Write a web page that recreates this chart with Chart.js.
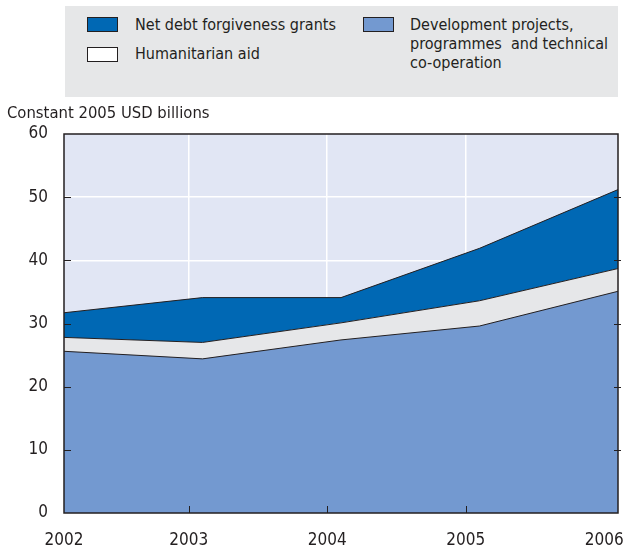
<!DOCTYPE html>
<html>
<head>
<meta charset="utf-8">
<script src="https://cdn.jsdelivr.net/npm/chart.js@4.4.1/dist/chart.umd.min.js"></script>
<style>
  body { margin: 0; background: #fff; }
  #wrap { position: relative; width: 625px; height: 547px; font-family: "Liberation Sans Narrow", "Arial Narrow", "DejaVu Sans Condensed", sans-serif; color: #231f20; }
  #legend { position: absolute; left: 65px; top: 6px; width: 553px; height: 91px; background: #e6e7e8; font-size: 16px; }
  .sw { position: absolute; width: 29px; height: 13px; border: 1px solid #231f20; }
  .lt { position: absolute; line-height: 19px; white-space: nowrap; }
  #ytitle { position: absolute; left: 7px; top: 103px; font-size: 16.5px; line-height: 20px; white-space: nowrap; }
  canvas { position: absolute; left: 0; top: 0; }
</style>
</head>
<body>
<div id="wrap">
  <canvas id="aidChart" width="625" height="547"></canvas>
  <div id="legend">
    <div class="sw" style="left:22px; top:11px; background:#0068b4"></div>
    <div class="lt" style="left:70px; top:9px">Net debt forgiveness grants</div>
    <div class="sw" style="left:22px; top:41px; background:#fff"></div>
    <div class="lt" style="left:70px; top:38px">Humanitarian aid</div>
    <div class="sw" style="left:298px; top:11px; background:#7399d0"></div>
    <div class="lt" style="left:345px; top:9px">Development projects,<br>programmes&nbsp; and technical<br>co-operation</div>
  </div>
  <div id="ytitle">Constant 2005 USD billions</div>
</div>
<script>
const years = [2002, 2003, 2004, 2005, 2006];
const development = [25.6, 24.4, 27.4, 29.6, 35.1];
const humanitarian = [2.2, 2.6, 2.7, 4.0, 3.6];
const debtForgiveness = [3.9, 7.1, 4.0, 8.3, 12.5];
// the original puts its year labels and grid lines a bit left of the data points
const yearTickPos = [2002, 2002.9, 2003.9, 2004.9, 2005.9];
const yearLabels = ['2002', '2003', '2004', '2005', '2006'];

const ink = '#231f20';

function points(values) {
    return values.map((v, i) => ({ x: years[i], y: v }));
}

// dark tick marks and frame go on top of the filled areas
const frameAndTicks = {
    id: 'frameAndTicks',
    afterDatasetsDraw(chart) {
        const { ctx, chartArea: a, scales: { x, y } } = chart;
        ctx.save();
        ctx.strokeStyle = ink;
        ctx.lineWidth = 1;
        ctx.beginPath();
        for (let v = 10; v < 60; v += 10) {
            const py = Math.round(y.getPixelForValue(v)) + 0.5;
            ctx.moveTo(a.left, py); ctx.lineTo(a.left + 7, py);
            ctx.moveTo(a.right - 4, py); ctx.lineTo(a.right + 3, py);
        }
        for (let i = 1; i < yearTickPos.length - 1; i++) {
            const px = Math.round(x.getPixelForValue(yearTickPos[i])) + 0.5;
            ctx.moveTo(px, a.bottom); ctx.lineTo(px, a.bottom - 7);
        }
        ctx.stroke();
        ctx.lineWidth = 1.5;
        ctx.strokeRect(a.left, a.top, a.right - a.left, a.bottom - a.top);
        ctx.restore();
    }
};

const plotBackground = {
    id: 'plotBackground',
    beforeDraw(chart) {
        const { ctx, chartArea: a } = chart;
        ctx.save();
        ctx.fillStyle = '#e1e6f4';
        ctx.fillRect(a.left, a.top, a.right - a.left, a.bottom - a.top);
        ctx.restore();
    }
};

const data = {
    datasets: [
        {
            label: 'Development projects, programmes and technical co-operation',
            data: points(development),
            backgroundColor: '#7399d0',
            fill: 'origin'
        },
        {
            label: 'Humanitarian aid',
            data: points(humanitarian),
            backgroundColor: '#e6e7e9',
            fill: '-1'
        },
        {
            label: 'Net debt forgiveness grants',
            data: points(debtForgiveness),
            backgroundColor: '#0068b4',
            fill: '-1'
        }
    ]
};
data.datasets.forEach(ds => {
    ds.borderColor = ink;
    ds.borderWidth = 1;
    ds.pointRadius = 0;
    ds.tension = 0;
});

const config = {
    type: 'line',
    data: data,
    options: {
        responsive: false,
        animation: false,
        layout: { padding: { top: 134, right: 7, left: 0, bottom: 0 } },
        plugins: { legend: { display: false }, tooltip: { enabled: false } },
        scales: {
            x: {
                type: 'linear',
                min: 2002,
                max: 2006,
                afterBuildTicks: scale => { scale.ticks = yearTickPos.map(v => ({ value: v })); },
                afterFit: scale => {
                    scale.height = 34;
                    scale.paddingLeft = 0;
                    scale.paddingRight = 0;
                },
                grid: {
                    drawTicks: false,
                    lineWidth: 1.5,
                    color: c => (c.index === 0 || c.index === yearTickPos.length - 1) ? 'rgba(0,0,0,0)' : '#ffffff'
                },
                border: { display: false },
                ticks: {
                    autoSkip: false,
                    maxRotation: 0,
                    padding: 17,
                    color: ink,
                    font: { family: '"Liberation Sans Narrow", "DejaVu Sans Condensed", sans-serif', size: 17 },
                    callback: (v, i) => yearLabels[i]
                }
            },
            y: {
                stacked: true,
                min: 0,
                max: 60,
                afterFit: scale => { scale.width = 64; },
                grid: {
                    drawTicks: false,
                    lineWidth: 1.5,
                    color: c => (c.tick.value === 0 || c.tick.value === 60) ? 'rgba(0,0,0,0)' : '#ffffff'
                },
                border: { display: false },
                ticks: {
                    stepSize: 10,
                    padding: 16,
                    color: ink,
                    font: { family: '"Liberation Sans Narrow", "DejaVu Sans Condensed", sans-serif', size: 17 }
                }
            }
        }
    },
    plugins: [plotBackground, frameAndTicks]
};

const aidChart = new Chart(document.getElementById('aidChart').getContext('2d'), config);
</script>
</body>
</html>
